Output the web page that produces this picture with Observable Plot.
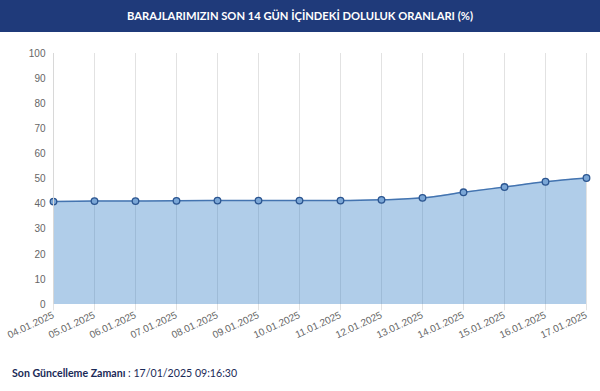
<!DOCTYPE html>
<html><head><meta charset="utf-8">
<script src="https://cdn.jsdelivr.net/npm/d3@7"></script>
<script src="https://cdn.jsdelivr.net/npm/@observablehq/plot@0.6"></script>
<style>
body{margin:0;background:#fff;width:600px;height:391px;overflow:hidden;position:relative;font-family:"Liberation Sans",Arial,sans-serif;}
#hdr{position:absolute;left:0;top:0;width:600px;height:32px;background:#1f3a7a;color:#fff;font-family:Lato,"Open Sans",sans-serif;font-weight:700;font-size:11.2px;text-align:center;line-height:31px;}
#chart{position:absolute;left:0;top:32px;}
#foot{position:absolute;left:12px;top:367px;font-family:Lato,"Open Sans",sans-serif;font-size:10.6px;color:#1b2a57;}
#foot b{font-weight:700;}
</style></head>
<body>
<div id="hdr">BARAJLARIMIZIN SON 14 GÜN İÇİNDEKİ DOLULUK ORANLARI (%)</div>
<div id="chart"></div>
<div id="foot"><b>Son Güncelleme Zamanı</b> : 17/01/2025 09:16:30</div>
<script>
const dates = ["04.01.2025","05.01.2025","06.01.2025","07.01.2025","08.01.2025","09.01.2025","10.01.2025","11.01.2025","12.01.2025","13.01.2025","14.01.2025","15.01.2025","16.01.2025","17.01.2025"];
const values = [41.0,41.2,41.2,41.3,41.4,41.4,41.4,41.4,41.7,42.5,44.7,46.8,48.9,50.4];
const yTicks = [0,10,20,30,40,50,60,70,80,90,100];

const data = dates.map((d,i)=>({date:d, value:values[i]}));

const chart = Plot.plot({
  width: 600,
  height: 310,
  marginTop: 21,
  marginLeft: 52,
  marginRight: 14,
  marginBottom: 38,
  style: {fontFamily: '"Liberation Sans", Arial, sans-serif', fontSize: "10px", color: "#666", background: "transparent"},
  x: {type: "point", domain: dates, padding: 0, label: null},
  y: {domain: [0,100], ticks: yTicks, label: null},
  marks: [
    Plot.gridY(yTicks, {stroke: "#e2e2e2", strokeOpacity: 1, x1: -5}),
    Plot.gridX(dates, {stroke: "#e2e2e2", strokeOpacity: 1, y1: 100, y2: -2.5}),
    Plot.areaY(data, {x: "date", y: "value", curve: "monotone-x", fill: "rgb(57,130,200)", fillOpacity: 0.4}),
    Plot.lineY(data, {x: "date", y: "value", curve: "monotone-x", stroke: "#4474b0", strokeWidth: 1.5}),
    Plot.dot(data, {x: "date", y: "value", r: 3.3, fill: "#7aa6d6", stroke: "#2b5590", strokeWidth: 1.3}),
    Plot.axisY(yTicks, {tickSize: 0, tickPadding: 7, fill: "#666", fontSize: 10}),
    Plot.axisX(dates, {tickSize: 0, tickRotate: -25, textAnchor: "end", tickPadding: 8, fill: "#666", fontSize: 10, dy: 2}),
    Plot.ruleX([dates[0]], {stroke: "#d8d8d8"})
  ]
});
document.getElementById("chart").appendChild(chart);
</script>
</body></html>
